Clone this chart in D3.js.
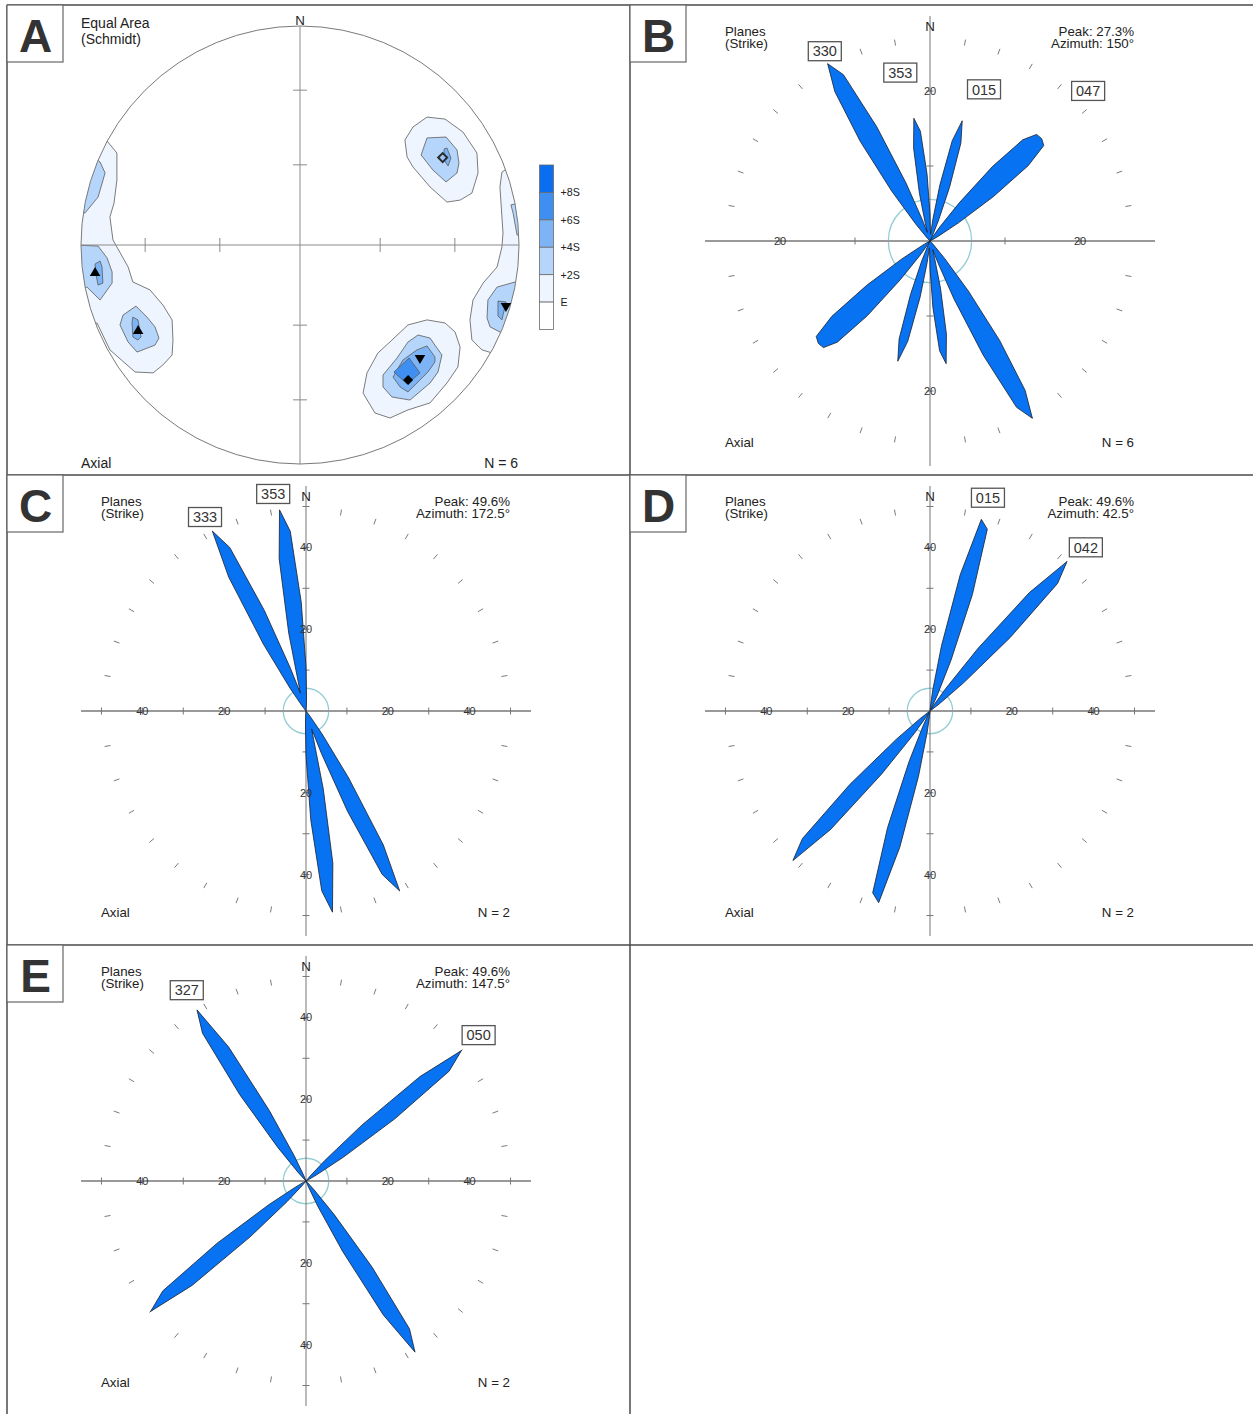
<!DOCTYPE html>
<html>
<head>
<meta charset="utf-8">
<script src="https://cdnjs.cloudflare.com/ajax/libs/d3/7.8.5/d3.min.js"></script>
<style>
  html, body { margin: 0; padding: 0; background: #fff; }
  svg { display: block; }
</style>
</head>
<body>
<svg id="fig" width="1253" height="1414"></svg>
<script>
// ---------------- Panel A: equal-area stereonet ----------------
// poles (trend / plunge, degrees) and their symbols
const poleTrend  = [262.2, 242.0, 106.5, 133.3, 141.3, 58.5];
const polePlunge = [6.2, 17.4, 2.2, 25.7, 22.1, 24.6];
const poleSymbol = ['triangle', 'triangle', 'triangleDown', 'triangleDown', 'diamond', 'diamondOpen'];

// density contour rings, net coordinates (x east, y north, % of primitive radius)
const contourE = [
  [[-91.3,52.5],[-87.7,47.0],[-83.6,42.0],[-83.6,29.7],[-84.9,19.2],[-86.8,12.8],[-85.4,2.3],[-78.5,-10.0],
   [-76.3,-16.9],[-68.5,-20.5],[-62.6,-27.4],[-58.4,-34.2],[-58.0,-43.4],[-58.4,-50.2],[-62.6,-54.8],
   [-67.1,-58.4],[-75.3,-58.0],[-86.8,-47.9],[-92.7,-35.6],[-100.5,-38.8],[-109.6,0],[-105,43.4]],
  [[58.0,58.4],[66.2,57.5],[74.4,51.6],[80.8,42.0],[81.3,32.9],[78.5,23.7],[73.1,20.5],[67.1,19.6],
   [59.4,26.5],[51.6,35.6],[48.9,40.2],[47.9,47.9],[51.6,53.9]],
  [[100.5,38.8],[92.2,33.3],[91.3,26.5],[92.7,5.5],[92.2,-0.9],[90.0,-10.0],[83.6,-17.4],[79.0,-25.1],
   [77.6,-34.2],[78.5,-43.4],[83.1,-47.9],[87.7,-49.3],[91.3,-57.1],[109.6,-25.1],[109.6,34.2]],
  [[58.0,-34.2],[66.2,-35.6],[70.8,-39.7],[73.1,-46.6],[72.1,-55.7],[67.1,-63.0],[59.4,-72.1],[49.3,-75.3],
   [41.1,-79.0],[34.2,-76.7],[28.8,-67.6],[30.6,-58.4],[35.6,-49.3],[42.0,-43.4],[49.3,-36.5]]
];
const contour2S = [
  [[-91.3,37.9],[-89.0,32.9],[-92.2,21.9],[-98.2,14.6],[-105,16],[-98.2,43.4]],
  [[-102.7,0],[-92.2,-0.5],[-88.1,-5.9],[-85.8,-12.3],[-85.8,-17.4],[-91.3,-25.1],[-97.3,-19.2],[-102.7,-20.5]],
  [[-74.9,-27.9],[-69.9,-32.9],[-66.2,-37.4],[-64.4,-42.5],[-66.2,-45.7],[-74.4,-48.9],[-78.5,-44.3],[-82.2,-36.5],[-80.8,-32.0]],
  [[58.0,48.9],[66.7,49.3],[71.7,43.4],[72.6,37.4],[71.7,32.9],[66.7,28.8],[60.7,34.2],[55.3,41.1]],
  [[96.3,18.3],[97.3,14.6],[99.1,4.6],[105,2.3],[105,20.5]],
  [[98.2,-16.9],[90.0,-19.2],[85.8,-25.1],[85.4,-33.3],[86.8,-37.4],[92.2,-40.2],[100.5,-45.7],[105,-16]],
  [[53.9,-41.1],[59.4,-42.5],[61.6,-45.7],[64.8,-50.2],[63.0,-58.0],[59.4,-63.0],[50.2,-70.8],[42.0,-69.4],
   [37.9,-64.8],[37.9,-59.4],[44.3,-51.6],[49.3,-44.3]]
];
const contour4S = [
  [[-93.6,-8.7],[-91.3,-7.3],[-90.4,-10.0],[-90.0,-17.4],[-92.2,-18.3],[-93.2,-13.2]],
  [[-76.3,-32.9],[-74.0,-34.2],[-72.6,-42.0],[-74.0,-43.4],[-76.3,-42.0],[-76.7,-35.2]],
  [[65.8,43.8],[67.1,44.3],[68.9,39.7],[67.6,36.1],[65.8,38.8]],
  [[90.4,-25.6],[94.1,-26.0],[92.2,-34.2],[90.4,-32.4]],
  [[58.0,-46.1],[61.6,-51.1],[61.6,-53.4],[58.4,-58.0],[54.8,-61.6],[49.3,-67.1],[45.7,-64.8],[42.5,-60.3],
   [44.3,-57.1],[47.0,-52.5],[53.4,-47.9]]
];
const contour6S = [
  [[42.9,-58.0],[49.8,-51.6],[54.8,-58.4],[48.9,-63.5]]
];
const legendLabels = ['+8S', '+6S', '+4S', '+2S', 'E'];
const netTickPlunge = [30, 60];

// ---------------- Panels B-E: rose diagrams of strikes ----------------
// percentage per 2.5° class centre, 0° … 177.5° (axial: repeated at +180°)
const roseB = [
  3.6, 1.1, 0.9, 2.9, 7.6, 13.7, 16.6, 13.7, 7.6, 2.9, 0.7, 0.2,
  0.1, 0.5, 2.3, 6.5, 13.0, 18.3, 20.1, 20.2, 19.8, 16.5, 10.3, 4.5,
  1.3, 0.3, 0, 0, 0, 0, 0, 0, 0, 0, 0, 0,
  0, 0, 0, 0, 0, 0, 0, 0, 0, 0, 0, 0,
  0, 0, 0, 0, 0, 0, 0.1, 0.7, 3.0, 8.4, 16.2, 23.6,
  27.3, 25.0, 16.8, 8.4, 3.1, 1.2, 2.4, 6.5, 12.6, 16.5, 14.7, 8.9
];
const roseC = [
  10.8, 3.0, 0.6, 0.1, 0, 0, 0, 0, 0, 0, 0, 0,
  0, 0, 0, 0, 0, 0, 0, 0, 0, 0, 0, 0,
  0, 0, 0, 0, 0, 0, 0, 0, 0, 0, 0, 0,
  0, 0, 0, 0, 0, 0, 0, 0, 0, 0, 0, 0,
  0, 0, 0, 0, 0, 0, 0, 0, 0.3, 1.6, 6.8, 19.4,
  37.8, 49.6, 44.1, 26.6, 11.1, 4.6, 7.3, 19.5, 37.8, 49.6, 44.1, 26.6
];
const roseD = [
  0, 0.2, 1.1, 5.2, 16.2, 34.1, 48.5, 46.6, 30.3, 13.4, 4.0, 0.8,
  0.4, 1.6, 6.8, 19.4, 37.8, 49.6, 44.1, 26.6, 10.8, 3.0, 0.6, 0.1,
  0, 0, 0, 0, 0, 0, 0, 0, 0, 0, 0, 0,
  0, 0, 0, 0, 0, 0, 0, 0, 0, 0, 0, 0,
  0, 0, 0, 0, 0, 0, 0, 0, 0, 0, 0, 0,
  0, 0, 0, 0, 0, 0, 0, 0, 0, 0, 0, 0
];
const roseE = [
  0, 0, 0, 0, 0, 0, 0, 0, 0, 0, 0, 0,
  0, 0, 0, 0.3, 1.6, 6.8, 19.4, 37.8, 49.6, 44.1, 26.6, 10.8,
  3.0, 0.6, 0.1, 0, 0, 0, 0, 0, 0, 0, 0, 0,
  0, 0, 0, 0, 0, 0, 0, 0, 0, 0, 0, 0,
  0, 0, 0, 0, 0, 0, 0.6, 3.0, 10.8, 26.6, 44.1, 49.6,
  37.8, 19.4, 6.8, 1.6, 0.3, 0, 0, 0, 0, 0, 0, 0
];
const roseStep = 2.5;
const strikeLabelsB = ['330', '353', '015', '047'];
const strikeLabelsC = ['353', '333'];
const strikeLabelsD = ['015', '042'];
const strikeLabelsE = ['327', '050'];
const panelCount = [6, 6, 2, 2, 2];   // N for A, B, C, D, E
const roseAxisMax = [30, 55, 55, 55];  // % at the end of the rose axes

// ---------------- layout ----------------
const FONT = '"Liberation Sans", Arial, Helvetica, sans-serif';
const svg = d3.select('#fig').style('font-family', FONT);
const INK = '#333';

// panel frame
const frame = svg.append('g').attr('stroke', '#4a4a4a').attr('stroke-width', 1.5).attr('fill', 'none');
[[7, 5, 1253, 5], [7, 5, 7, 1414], [630, 5, 630, 1414], [7, 475, 1253, 475], [7, 945, 1253, 945]]
  .forEach(([x1, y1, x2, y2]) => frame.append('line').attr('x1', x1).attr('y1', y1).attr('x2', x2).attr('y2', y2));

// panel letters
const letterBoxes = [['A', 7, 5], ['B', 630, 5], ['C', 7, 475], ['D', 630, 475], ['E', 7, 945]];
letterBoxes.forEach(([t, x, y]) => {
  svg.append('rect').attr('x', x).attr('y', y).attr('width', 56).attr('height', 57)
    .attr('fill', '#fff').attr('stroke', '#666').attr('stroke-width', 1.2);
  svg.append('text').attr('x', x + 28.5).attr('y', y + 47).attr('text-anchor', 'middle')
    .attr('font-size', 46).attr('font-weight', 'bold').attr('fill', INK).text(t);
});

function txt(g, x, y, s, size, anchor) {
  return g.append('text').attr('x', x).attr('y', y).attr('font-size', size)
    .attr('text-anchor', anchor || 'start').attr('fill', '#222').text(s);
}

// ---------------- draw panel A ----------------
(function drawNet() {
  const cx = 300, cy = 245, R = 219;
  const g = svg.append('g');
  const nx = d3.scaleLinear().domain([-100, 100]).range([cx - R, cx + R]);
  const ny = d3.scaleLinear().domain([-100, 100]).range([cy + R, cy - R]);
  const eqArea = p => 100 * Math.SQRT2 * Math.sin((90 - p) / 2 * Math.PI / 180);
  const project = (tr, pl) => {
    const r = eqArea(pl), t = tr * Math.PI / 180;
    return [nx(r * Math.sin(t)), ny(r * Math.cos(t))];
  };

  svg.append('defs').append('clipPath').attr('id', 'netClip')
    .append('circle').attr('cx', cx).attr('cy', cy).attr('r', R);

  const fills = ['#eef5fe', '#b5d5fa', '#7db4f5', '#3f8ff2', '#0b6def'];
  const ring = d3.line().x(d => nx(d[0])).y(d => ny(d[1])).curve(d3.curveLinearClosed);
  const cg = g.append('g').attr('clip-path', 'url(#netClip)');
  [contourE, contour2S, contour4S, contour6S].forEach((rings, i) => {
    cg.selectAll(null).data(rings).join('path')
      .attr('d', ring).attr('fill', fills[i]).attr('stroke', '#5a5a5a').attr('stroke-width', 0.8);
  });

  // primitive circle, axes and plunge ticks
  g.append('circle').attr('cx', cx).attr('cy', cy).attr('r', R)
    .attr('fill', 'none').attr('stroke', '#7a7a7a').attr('stroke-width', 1);
  const ax = g.append('g').attr('stroke', '#8a8a8a').attr('stroke-width', 1);
  ax.append('line').attr('x1', nx(-100)).attr('x2', nx(100)).attr('y1', cy).attr('y2', cy);
  ax.append('line').attr('x1', cx).attr('x2', cx).attr('y1', ny(100)).attr('y2', ny(-100));
  netTickPlunge.forEach(p => {
    const r = eqArea(p);
    [-1, 1].forEach(s => {
      ax.append('line').attr('x1', nx(s * r)).attr('x2', nx(s * r)).attr('y1', cy - 7).attr('y2', cy + 7);
      ax.append('line').attr('y1', ny(s * r)).attr('y2', ny(s * r)).attr('x1', cx - 7).attr('x2', cx + 7);
    });
  });

  // poles
  poleTrend.forEach((tr, i) => {
    const [x, y] = project(tr, polePlunge[i]);
    const kind = poleSymbol[i];
    let p;
    if (kind.startsWith('triangle')) {
      p = g.append('path').attr('d', d3.symbol(d3.symbolTriangle, 48)())
        .attr('transform', `translate(${x},${y})` + (kind === 'triangleDown' ? ' rotate(180)' : ''))
        .attr('fill', '#000');
    } else {
      p = g.append('path').attr('d', d3.symbol(d3.symbolSquare, kind === 'diamond' ? 50 : 40)())
        .attr('transform', `translate(${x},${y}) rotate(45)`)
        .attr('fill', kind === 'diamond' ? '#000' : '#9cc6f7')
        .attr('stroke', kind === 'diamond' ? 'none' : '#2b2b2b').attr('stroke-width', 2);
    }
  });

  // labels
  txt(g, cx, 25, 'N', 13.3, 'middle');
  txt(g, 81, 28, 'Equal Area', 14);
  txt(g, 81, 44, '(Schmidt)', 14);
  txt(g, 81, 467.5, 'Axial', 14);
  txt(g, 518, 467.5, 'N = ' + panelCount[0], 14, 'end');

  // legend
  const lg = g.append('g');
  const bandFill = ['#0b6def', '#3f8ff2', '#7db4f5', '#b5d5fa', '#eef5fe', '#ffffff'];
  const ly = d3.scaleLinear().domain([0, bandFill.length]).range([165, 329.5]);
  bandFill.forEach((f, i) => {
    lg.append('rect').attr('x', 539.5).attr('y', ly(i)).attr('width', 14).attr('height', ly(i + 1) - ly(i))
      .attr('fill', f).attr('stroke', '#6a6a6a').attr('stroke-width', 0.8);
  });
  legendLabels.forEach((s, i) => {
    lg.append('text').attr('x', 560.5).attr('y', ly(i + 1) + 4).attr('font-size', 10.7)
      .attr('fill', '#222').text(s);
  });
})();

// ---------------- draw rose panels ----------------
const rosePanels = [
  { cx: 930, cy: 241, pct: roseB, labels: strikeLabelsB, n: panelCount[1], max: roseAxisMax[0],
    place: [[331, 217], [350, 171], [19.6, 161], [46.5, 218]] },
  { cx: 306, cy: 711, pct: roseC, labels: strikeLabelsC, n: panelCount[2], max: roseAxisMax[1],
    place: [[351.4, 219.5], [332.5, 218.7]] },
  { cx: 930, cy: 711, pct: roseD, labels: strikeLabelsD, n: panelCount[3], max: roseAxisMax[2],
    place: [[15.2, 221], [43.6, 226]] },
  { cx: 306, cy: 1181, pct: roseE, labels: strikeLabelsE, n: panelCount[4], max: roseAxisMax[3],
    place: [[328, 225], [49.8, 226]] }
];

const AXIS_PX = 225;
rosePanels.forEach(P => {
  const g = svg.append('g').attr('transform', `translate(${P.cx},${P.cy})`);
  const r = d3.scaleLinear().domain([0, P.max]).range([0, AXIS_PX]);
  const rad = a => a * Math.PI / 180;

  // outer graticule of 10° marks
  const ringR = 201.5;
  d3.range(10, 360, 10).filter(a => a % 90 !== 0).forEach(a => {
    const s = Math.sin(rad(a)), c = -Math.cos(rad(a));
    g.append('line').attr('x1', s * (ringR - 3)).attr('y1', c * (ringR - 3))
      .attr('x2', s * (ringR + 3)).attr('y2', c * (ringR + 3))
      .attr('stroke', '#7a7a7a').attr('stroke-width', 1);
  });

  // uniform-distribution circle
  g.append('circle').attr('r', r(100 / 18)).attr('fill', 'none')
    .attr('stroke', '#93cdd3').attr('stroke-width', 1.3);

  // axes with 10 % ticks
  g.append('line').attr('x1', -AXIS_PX).attr('x2', AXIS_PX).attr('stroke', '#999').attr('stroke-width', 1.8);
  g.append('line').attr('y1', -AXIS_PX).attr('y2', AXIS_PX).attr('stroke', '#777').attr('stroke-width', 1);
  const ticks = d3.range(10, P.max, 10);
  ticks.forEach(v => {
    [-1, 1].forEach(s => {
      g.append('line').attr('x1', s * r(v)).attr('x2', s * r(v)).attr('y1', -3.5).attr('y2', 3.5)
        .attr('stroke', '#777').attr('stroke-width', 1);
      g.append('line').attr('y1', s * r(v)).attr('y2', s * r(v)).attr('x1', -3.5).attr('x2', 3.5)
        .attr('stroke', '#777').attr('stroke-width', 1);
    });
  });

  // petals (axial data: each class drawn at azimuth and azimuth + 180°)
  const pts = d3.range(P.pct.length * 2).map(k => [k * roseStep, P.pct[k % P.pct.length]]);
  const petal = d3.lineRadial().angle(d => rad(d[0])).radius(d => r(d[1])).curve(d3.curveLinearClosed);
  g.append('path').attr('d', petal(pts)).attr('fill', '#0873f2')
    .attr('stroke', '#16202e').attr('stroke-width', 0.8).attr('stroke-linejoin', 'round');

  // axis value labels
  ticks.filter(v => v % 20 === 0).forEach(v => {
    [[0, -r(v)], [0, r(v)], [-r(v), 0], [r(v), 0]].forEach(([x, y]) => {
      g.append('text').attr('x', x).attr('y', y + 4).attr('text-anchor', 'middle')
        .attr('font-size', 11).attr('fill', '#333').text(v);
    });
  });

  // strike labels in boxes
  P.labels.forEach((s, i) => {
    const [az, d] = P.place[i];
    const x = d * Math.sin(rad(az)), y = -d * Math.cos(rad(az));
    g.append('rect').attr('x', x - 16.5).attr('y', y - 9.5).attr('width', 33).attr('height', 19)
      .attr('fill', '#fff').attr('stroke', '#555').attr('stroke-width', 1.3);
    g.append('text').attr('x', x).attr('y', y + 5.2).attr('text-anchor', 'middle')
      .attr('font-size', 14.5).attr('fill', '#333').text(s);
  });

  // peak class from the data (last of equal maxima)
  let peakI = 0;
  P.pct.forEach((v, i) => { if (v >= P.pct[peakI]) peakI = i; });
  const peakAz = peakI * roseStep;
  const azText = Number.isInteger(peakAz) ? String(peakAz) : peakAz.toFixed(1);

  txt(g, 0, -210.5, 'N', 13.3, 'middle');
  txt(g, -205, -205.5, 'Planes', 13.3);
  txt(g, -205, -193, '(Strike)', 13.3);
  txt(g, 204, -205.5, 'Peak: ' + P.pct[peakI].toFixed(1) + '%', 13.3, 'end');
  txt(g, 204, -193, 'Azimuth: ' + azText + '°', 13.3, 'end');
  txt(g, -205, 205.7, 'Axial', 13.3);
  txt(g, 204, 205.7, 'N = ' + P.n, 13.3, 'end');
});
</script>
</body>
</html>
